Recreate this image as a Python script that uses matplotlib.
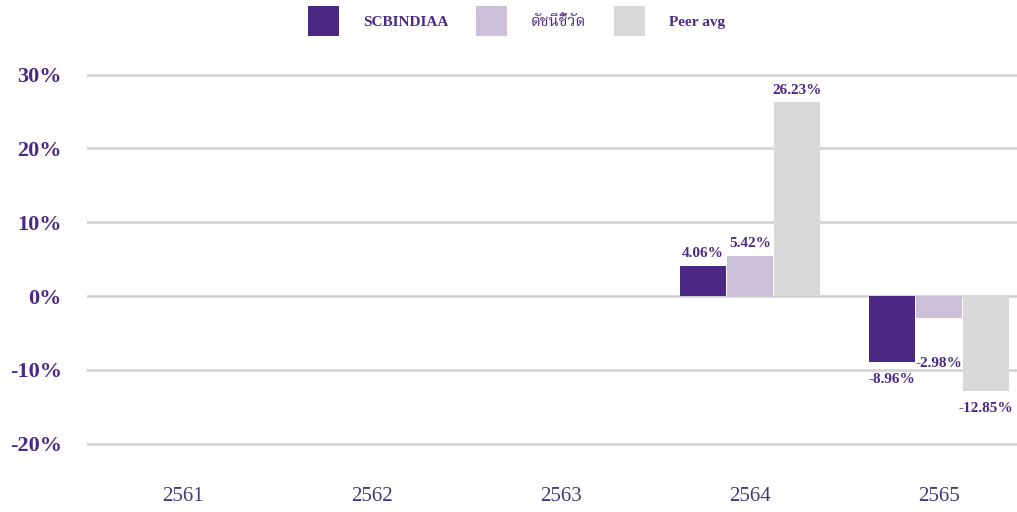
import numpy as np
import matplotlib
matplotlib.use('Agg')
import matplotlib.pyplot as plt

plt.rcParams['font.family'] = ['Liberation Serif', 'Noto Serif Thai', 'FreeSerif']

years = ['2561', '2562', '2563', '2564', '2565']
fund = [np.nan, np.nan, np.nan, 4.06, -8.96]
benchmark = [np.nan, np.nan, np.nan, 5.42, -2.98]
peer = [np.nan, np.nan, np.nan, 26.23, -12.85]
names = ['SCBINDIAA', 'ดัชนีชี้วัด', 'Peer avg']
yticks = [-20, -10, 0, 10, 20, 30]

colors = ['#4b2884', '#cbbfd9', '#d9d9d9']
txt = '#4b2a85'

fig = plt.figure(figsize=(10.17, 5.12), dpi=100)
ax = fig.add_axes([0.0855, 0.076, 0.9145, 0.807])

x = np.arange(len(years))
w = 0.25
series = [fund, benchmark, peer]
for i, (vals, name, c) in enumerate(zip(series, names, colors)):
    pos = x + (i - 1) * w
    ax.bar(pos, vals, width=w * 0.98, color=c, label=name, zorder=3)
    for p, v in zip(pos, vals):
        if np.isnan(v):
            continue
        dy = 4 if v > 0 else -8
        # the benchmark label for 2565 sits lower in the original
        if v < 0 and i == 1:
            dy = -28
        ax.annotate(f'{v:.2f}%', (p, v), xytext=(0, dy), textcoords='offset points',
                    ha='center', va='bottom' if v > 0 else 'top',
                    fontsize=11, fontweight='bold', color=txt, zorder=4)

ax.set_xlim(-0.508, 4.413)
ax.set_ylim(-24, 32)
ax.set_yticks(yticks)
ax.set_yticklabels([f'{t}%' for t in yticks], fontsize=16, fontweight='bold', color=txt)
ax.set_xticks(x)
ax.set_xticklabels(years, fontsize=15, color='#3f3a7a')
ax.tick_params(axis='y', length=0, pad=18)
ax.tick_params(axis='x', length=0, pad=10)
ax.yaxis.grid(True, color='#d0d0d0', linewidth=1.8, zorder=0)
ax.set_axisbelow(True)
for s in ax.spines.values():
    s.set_visible(False)

leg = fig.legend(loc='upper center', bbox_to_anchor=(0.508, 1.0), ncol=3, frameon=False,
                 prop={'size': 11, 'weight': 'bold'}, handlelength=2.0, handleheight=2.6,
                 handletextpad=1.6, columnspacing=1.8, borderaxespad=0.0)
for t in leg.get_texts():
    t.set_color(txt)

fig.savefig('out.png')
